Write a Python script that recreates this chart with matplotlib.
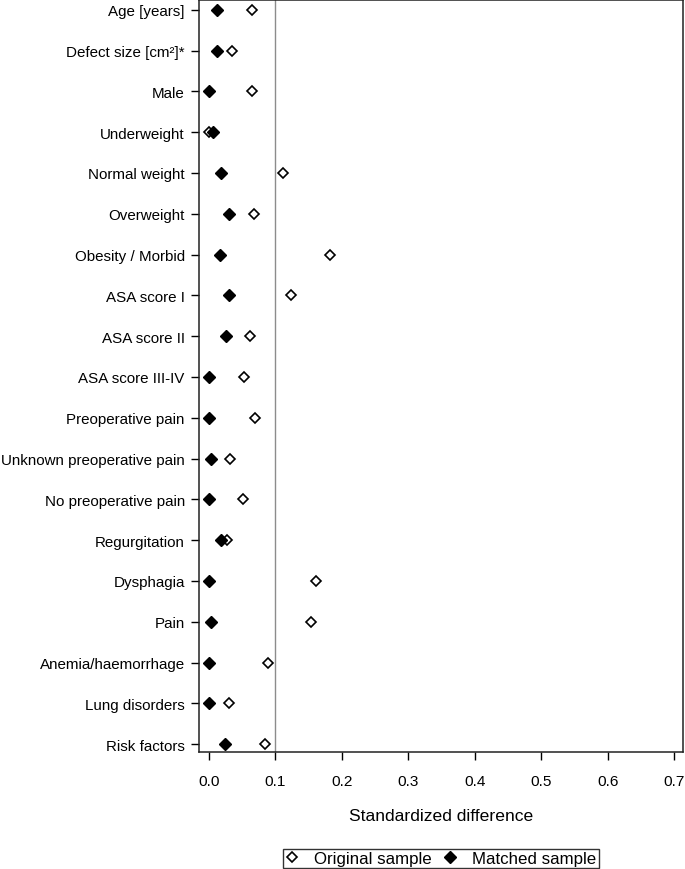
import matplotlib
matplotlib.use("Agg")
import matplotlib.pyplot as plt

plt.rcParams['font.family'] = ['Liberation Sans', 'DejaVu Sans']

# covariates, top to bottom
labels = ["Age [years]", "Defect size [cm\u00b2]*", "Male", "Underweight",
          "Normal weight", "Overweight", "Obesity / Morbid", "ASA score I",
          "ASA score II", "ASA score III-IV", "Preoperative pain",
          "Unknown preoperative pain", "No preoperative pain",
          "Regurgitation", "Dysphagia", "Pain", "Anemia/haemorrhage",
          "Lung disorders", "Risk factors"]

# standardized differences
original = [0.065, 0.035, 0.065, 0.000, 0.112, 0.068, 0.182, 0.123, 0.062,
            0.053, 0.070, 0.032, 0.052, 0.027, 0.161, 0.153, 0.089, 0.031, 0.085]
matched = [0.012, 0.012, 0.000, 0.007, 0.018, 0.031, 0.017, 0.031, 0.026,
           0.000, 0.000, 0.003, 0.000, 0.019, 0.000, 0.003, 0.000, 0.000, 0.025]

xticks = [0.0, 0.1, 0.2, 0.3, 0.4, 0.5, 0.6, 0.7]

fig = plt.figure(figsize=(6.85, 8.7), dpi=100)
ax = fig.add_axes([0.291, 0.1341, 0.7065, 0.8648])

pos = list(range(len(labels)))
ax.axvline(0.1, color="#8c8c8c", lw=1.0, zorder=1)
h1, = ax.plot(original, pos, ls="none", marker="D", ms=5.3, mfc="white",
              mec="black", mew=1.2, zorder=3, label="Original sample")
h2, = ax.plot(matched, pos, ls="none", marker="D", ms=5.9, mfc="black",
              mec="black", mew=1.0, zorder=4, label="Matched sample")

ax.set_yticks(pos)
ax.set_yticklabels(labels)
ax.set_ylim(18.2, -0.24)
ax.set_xticks(xticks)
ax.set_xticklabels(["%.1f" % v for v in xticks])
ax.set_xlim(-0.0141, 0.7133)

ax.tick_params(axis="y", length=5.5, width=1.0, pad=5, labelsize=10.9)
ax.tick_params(axis="x", length=5.8, width=1.0, pad=9.5, labelsize=11.1)
for s in ax.spines.values():
    s.set_linewidth(1.1)
    s.set_color("#222222")

ax.set_xlabel("Standardized difference", fontsize=12.6, labelpad=14.5)

leg = fig.legend(handles=[h1, h2], loc="center", bbox_to_anchor=(441 / 685, 1 - 859.5 / 870),
                 ncol=2, fontsize=12.2, frameon=True, fancybox=False,
                 edgecolor="black", handlelength=0.8, handletextpad=0.9,
                 columnspacing=0.7, borderpad=0.12, borderaxespad=0)
leg.get_frame().set_linewidth(1.0)

fig.savefig("out.png", dpi=100)
